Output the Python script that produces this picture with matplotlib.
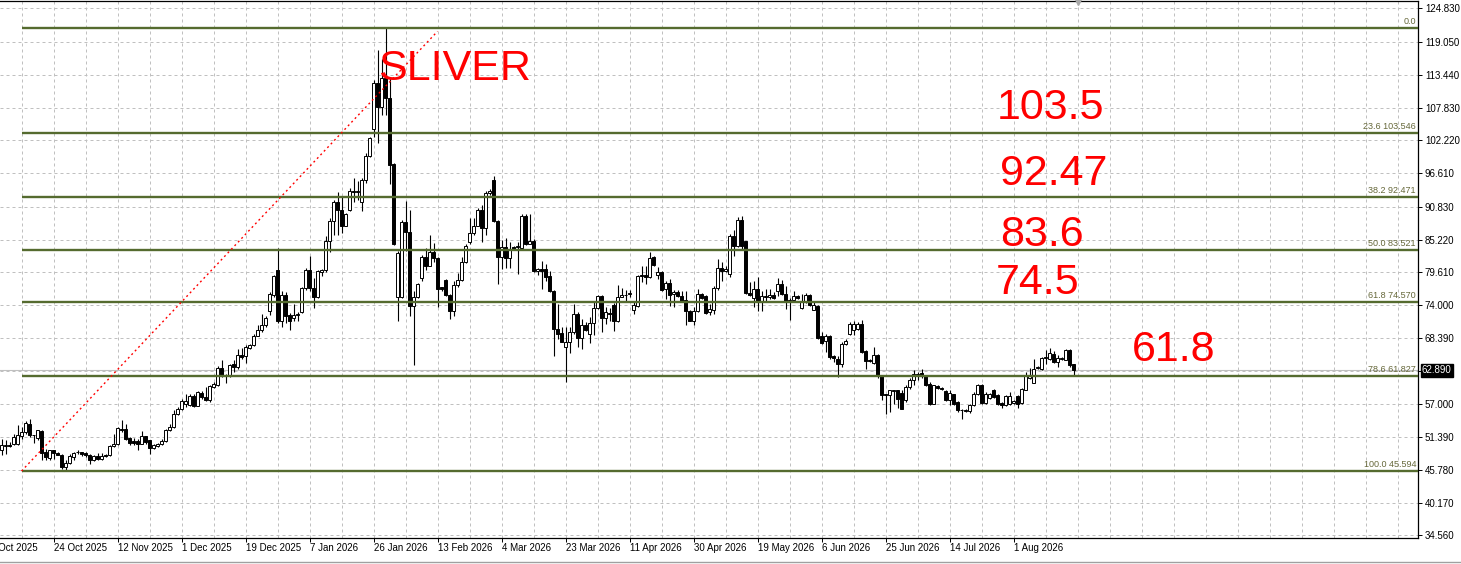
import numpy as np
import matplotlib.pyplot as plt
from matplotlib.lines import Line2D

plt.rcParams['font.family'] = ['Liberation Sans', 'DejaVu Sans']

# daily bars, first one is index -5 (partly cut at the left edge)
first_bar = -5
opens = [49.13, 49.93, 50.10, 50.27, 50.27, 51.59, 52.27, 53.70, 51.85, 51.30,
         52.38, 48.79, 47.82, 49.13, 48.73, 48.27, 46.27, 47.02, 47.99, 48.80,
         48.79, 48.67, 48.27, 47.53, 48.10, 47.65, 48.27, 48.27, 49.81, 50.27,
         52.84, 52.78, 51.30, 50.79, 50.67, 50.27, 51.64, 50.84, 49.59, 49.87,
         50.27, 50.67, 52.55, 53.12, 55.41, 56.27, 57.12, 56.89, 58.38, 56.78,
         59.00, 58.26, 57.69, 59.97, 60.26, 63.23, 61.95, 61.80, 63.86, 63.40,
         65.51, 65.28, 66.65, 67.11, 68.77, 69.68, 70.53, 72.93, 75.78, 80.06,
         71.21, 75.78, 72.35, 71.78, 72.24, 72.92, 76.92, 80.06, 77.03, 75.32,
         79.77, 80.06, 85.02, 88.45, 91.59, 90.33, 87.59, 90.33, 93.59, 93.36,
         91.76, 95.47, 99.58, 104.15, 112.02, 108.03, 112.88, 109.57, 98.15, 75.49,
         75.49, 88.17, 86.62, 73.78, 75.49, 78.63, 82.34, 80.74, 83.03, 82.17,
         77.09, 78.34, 75.78, 73.04, 77.49, 78.34, 81.37, 84.91, 86.45, 87.65,
         90.33, 87.19, 93.30, 95.36, 88.45, 82.23, 84.00, 82.17, 83.94, 83.94,
         83.77, 89.36, 84.51, 85.08, 79.88, 80.21, 80.21, 79.07, 76.50, 69.94,
         69.19, 66.80, 67.71, 69.36, 72.50, 68.39, 70.62, 69.08, 70.96, 73.53,
         75.64, 71.82, 72.73, 74.04, 71.25, 75.47, 75.70, 75.93, 73.19, 73.93,
         79.24, 79.24, 78.90, 82.21, 79.24, 79.75, 76.73, 77.81, 75.93, 76.33,
         75.64, 74.96, 73.07, 71.36, 72.96, 75.99, 75.53, 72.79, 73.25, 76.90,
         80.32, 79.81, 79.35, 85.92, 84.09, 88.66, 84.95, 76.10, 75.24, 76.78,
         74.67, 75.64, 75.36, 75.81, 76.50, 77.64, 75.93, 74.67, 74.90, 75.59,
         73.60, 74.57, 75.71, 73.26, 73.88, 68.68, 67.88, 68.68, 65.26, 64.86,
         64.00, 67.31, 69.03, 69.83, 70.00, 70.74, 66.11, 64.68, 64.11, 65.43,
         61.83, 58.74, 58.57, 59.31, 59.43, 58.97, 57.83, 60.00, 61.14, 62.28,
         62.40, 61.83, 60.57, 57.14, 60.11, 59.83, 59.31, 57.71, 58.74, 57.43,
         56.11, 55.88, 55.88, 56.86, 58.86, 60.28, 57.26, 58.17, 59.54, 58.57,
         57.26, 56.86, 57.14, 57.26, 58.40, 57.26, 59.54, 61.60, 60.74, 63.20,
         63.14, 64.91, 64.86, 65.71, 64.28, 64.86, 64.68, 66.40, 63.88]
highs = [51.13, 50.96, 50.50, 51.98, 53.53, 53.12, 54.10, 54.44, 51.85, 52.67,
         52.55, 49.41, 49.24, 49.13, 48.84, 48.44, 47.42, 48.44, 48.84, 49.24,
         48.90, 48.90, 48.44, 48.27, 48.73, 48.67, 48.44, 49.99, 51.87, 53.12,
         54.27, 53.70, 51.41, 51.30, 51.01, 52.38, 51.64, 50.96, 50.27, 50.44,
         51.13, 52.73, 53.70, 55.98, 56.55, 57.98, 58.83, 58.83, 58.83, 59.23,
         59.23, 59.97, 60.26, 60.83, 63.51, 64.54, 62.26, 63.97, 64.54, 66.54,
         66.71, 67.11, 67.39, 69.11, 70.65, 72.53, 72.07, 76.24, 79.20, 83.77,
         76.35, 76.23, 72.64, 74.18, 72.92, 77.20, 80.34, 82.51, 78.63, 80.06,
         80.23, 85.77, 88.91, 92.04, 93.47, 92.62, 89.76, 94.04, 95.76, 95.30,
         95.76, 100.03, 102.89, 112.59, 117.73, 116.19, 121.44, 112.88, 98.32, 83.20,
         88.62, 91.93, 90.33, 76.46, 77.77, 82.63, 83.77, 86.05, 84.62, 82.34,
         77.20, 78.52, 75.89, 78.06, 79.49, 82.34, 84.45, 88.91, 88.91, 90.62,
         91.19, 93.59, 93.93, 96.21, 88.62, 85.20, 85.48, 84.79, 84.22, 84.79,
         89.59, 89.59, 89.59, 85.37, 80.34, 81.64, 81.07, 79.92, 76.61, 74.22,
         70.33, 70.22, 70.33, 74.22, 72.79, 71.65, 71.08, 71.93, 74.50, 75.81,
         75.81, 73.65, 73.53, 74.33, 77.47, 76.96, 76.61, 76.61, 74.79, 79.24,
         80.78, 80.78, 83.06, 82.49, 80.49, 79.92, 78.21, 78.44, 76.61, 76.61,
         76.50, 76.39, 73.19, 73.65, 76.78, 76.10, 75.70, 74.22, 77.36, 81.92,
         81.35, 80.78, 86.20, 86.89, 89.06, 89.34, 85.06, 77.93, 78.21, 78.78,
         76.50, 76.78, 76.78, 76.21, 78.67, 78.38, 77.36, 75.19, 76.50, 75.76,
         76.00, 76.11, 75.88, 74.57, 74.00, 69.43, 69.14, 68.86, 65.43, 65.26,
         67.71, 68.28, 71.14, 71.31, 71.14, 71.54, 66.28, 64.86, 66.86, 65.60,
         62.00, 58.86, 59.54, 59.54, 59.54, 59.43, 60.28, 61.60, 62.86, 62.57,
         63.14, 62.00, 60.86, 60.40, 60.40, 60.00, 59.54, 59.43, 58.86, 57.54,
         56.28, 56.28, 57.03, 59.14, 60.57, 60.46, 59.14, 58.97, 59.71, 58.74,
         57.43, 58.57, 59.14, 57.83, 58.57, 59.88, 62.57, 63.31, 64.86, 63.54,
         65.14, 66.40, 66.74, 66.17, 65.43, 65.14, 66.57, 66.57, 64.00]
lows = [48.27, 48.44, 49.70, 49.99, 49.99, 51.13, 51.98, 51.41, 50.44, 50.84,
        47.42, 47.42, 47.53, 47.70, 48.27, 45.99, 45.82, 46.85, 47.42, 48.56,
        48.10, 47.99, 46.85, 47.30, 47.42, 47.53, 47.99, 48.10, 49.70, 49.99,
        52.27, 50.84, 49.99, 49.99, 49.13, 50.16, 50.27, 48.56, 49.41, 49.70,
        49.99, 50.56, 52.44, 53.01, 55.12, 56.09, 56.55, 56.66, 56.55, 56.66,
        57.98, 57.58, 57.41, 59.86, 60.09, 61.69, 60.66, 61.69, 62.54, 63.12,
        64.83, 64.14, 66.48, 67.00, 68.65, 69.39, 70.25, 72.25, 75.49, 70.93,
        70.35, 70.93, 69.78, 71.21, 71.21, 72.64, 76.63, 76.35, 73.49, 75.20,
        78.92, 79.77, 83.08, 86.05, 86.05, 86.34, 87.48, 90.05, 91.76, 92.04,
        90.16, 94.90, 99.46, 102.89, 101.75, 106.60, 106.60, 94.73, 84.34, 71.21,
        75.20, 83.20, 72.07, 63.79, 75.20, 78.06, 80.06, 80.63, 81.48, 73.61,
        76.35, 75.66, 71.67, 72.07, 77.20, 78.06, 81.20, 84.45, 86.05, 87.48,
        84.91, 86.05, 92.90, 88.33, 77.60, 80.23, 80.34, 80.34, 83.66, 79.37,
        83.49, 84.34, 84.45, 79.77, 79.20, 76.78, 78.21, 76.21, 65.25, 68.22,
        67.65, 60.80, 65.77, 69.08, 66.80, 66.51, 69.65, 67.48, 68.91, 73.36,
        69.36, 70.79, 71.36, 69.54, 71.08, 75.36, 74.67, 75.47, 72.50, 73.76,
        77.93, 77.64, 78.67, 80.72, 78.44, 76.50, 75.07, 73.93, 73.76, 75.47,
        74.67, 70.65, 71.25, 70.68, 72.79, 75.07, 72.50, 72.33, 72.50, 76.61,
        78.10, 79.64, 78.90, 82.49, 83.92, 83.63, 75.93, 75.64, 73.65, 72.96,
        73.07, 74.67, 75.07, 75.07, 75.64, 75.81, 73.36, 71.53, 74.79, 75.07,
        73.43, 74.40, 73.83, 73.14, 68.28, 67.43, 66.00, 64.86, 64.28, 61.71,
        63.43, 67.26, 68.86, 68.86, 69.83, 65.83, 63.03, 64.28, 63.88, 61.60,
        57.71, 55.43, 55.71, 57.14, 56.40, 56.23, 57.43, 59.71, 60.28, 61.14,
        61.60, 60.17, 56.86, 57.03, 59.71, 59.43, 57.54, 56.86, 56.86, 55.71,
        54.57, 55.71, 55.54, 56.68, 58.57, 57.14, 57.03, 58.00, 58.17, 56.86,
        56.46, 56.68, 56.86, 57.14, 56.46, 57.14, 59.43, 61.43, 60.68, 63.08,
        62.86, 64.00, 64.68, 64.11, 63.43, 64.68, 64.57, 63.43, 62.00]
closes = [50.10, 50.10, 49.87, 51.41, 51.76, 52.33, 53.81, 51.81, 51.75, 52.55,
          48.73, 47.99, 49.13, 48.73, 48.39, 46.27, 47.02, 48.16, 48.73, 48.90,
          48.50, 48.27, 47.42, 48.10, 47.65, 48.16, 48.10, 49.81, 50.27, 52.90,
          52.55, 51.13, 50.44, 50.44, 50.27, 51.64, 50.50, 49.59, 49.99, 50.27,
          50.73, 52.55, 53.12, 55.41, 56.27, 57.52, 57.58, 58.43, 56.72, 59.06,
          58.26, 57.81, 60.09, 60.43, 63.23, 61.92, 61.98, 63.68, 63.40, 65.51,
          65.11, 66.82, 67.11, 68.77, 69.68, 70.53, 71.79, 75.96, 78.92, 71.21,
          75.78, 72.07, 71.38, 72.35, 72.47, 76.92, 80.06, 76.92, 75.32, 79.88,
          80.06, 85.02, 88.45, 91.59, 90.33, 87.48, 89.59, 93.59, 93.36, 93.59,
          95.47, 99.58, 102.72, 112.02, 108.03, 112.88, 109.45, 98.04, 84.45, 82.91,
          88.17, 86.51, 73.78, 75.49, 77.60, 82.34, 80.63, 83.03, 82.06, 76.80,
          76.75, 75.78, 73.04, 77.49, 78.34, 81.48, 84.22, 86.45, 87.65, 90.33,
          87.19, 93.30, 93.59, 88.45, 82.23, 84.05, 82.06, 83.66, 83.71, 84.17,
          89.36, 84.45, 85.08, 79.88, 80.23, 79.92, 78.90, 76.39, 69.88, 69.08,
          67.77, 67.71, 69.48, 72.50, 68.39, 70.62, 69.76, 70.96, 73.53, 75.64,
          71.82, 72.90, 72.50, 71.25, 75.47, 75.81, 75.81, 76.16, 74.10, 79.07,
          78.95, 78.78, 82.09, 80.89, 79.75, 76.67, 77.81, 75.76, 76.33, 75.53,
          74.79, 72.96, 71.36, 73.07, 75.99, 75.24, 72.62, 73.36, 76.96, 80.38,
          79.92, 80.21, 85.92, 84.09, 88.66, 84.09, 76.04, 75.81, 76.78, 74.67,
          75.64, 75.36, 75.76, 75.24, 77.64, 75.93, 74.79, 74.90, 75.64, 75.24,
          74.57, 75.71, 74.00, 74.00, 68.46, 67.54, 68.68, 65.14, 64.97, 64.00,
          67.43, 67.88, 70.74, 70.74, 70.74, 66.00, 64.46, 64.46, 65.43, 61.83,
          58.57, 58.57, 59.43, 59.43, 58.00, 56.28, 60.00, 61.14, 62.28, 62.00,
          61.83, 60.28, 57.14, 60.28, 59.88, 59.60, 57.71, 58.97, 57.14, 56.00,
          56.00, 56.11, 56.86, 58.86, 60.28, 57.26, 58.86, 58.86, 58.28, 57.14,
          56.86, 58.40, 58.40, 57.54, 57.14, 59.71, 61.83, 61.83, 63.14, 63.43,
          65.03, 65.14, 65.83, 64.28, 65.03, 65.03, 66.40, 63.71, 62.89]

fib_prices = [121.44, 103.546, 92.471, 83.521, 74.570, 61.827, 45.594]
fib_labels = ['0.0', '23.6 103.546', '38.2 92.471', '50.0 83.521',
              '61.8 74.570', '78.6 61.827', '100.0 45.594']
fib_start = 0

trend_x = [0, 104]
trend_y = [45.594, 120.9]

price_ticks = [124.83, 119.05, 113.44, 107.83, 102.22, 96.61, 90.83, 85.22,
               79.61, 74.0, 68.39, 62.695, 57.0, 51.39, 45.78, 40.17, 34.56]
price_labels = ['124.830', '119.050', '113.440', '107.830', '102.220', '96.610',
                '90.830', '85.220', '79.610', '74.000', '68.390', '', '57.000',
                '51.390', '45.780', '40.170', '34.560']
last_price = 62.89

date_labels = ['5 Oct 2025', '24 Oct 2025', '12 Nov 2025', '1 Dec 2025',
               '19 Dec 2025', '7 Jan 2026', '26 Jan 2026', '13 Feb 2026',
               '4 Mar 2026', '23 Mar 2026', '11 Apr 2026', '30 Apr 2026',
               '19 May 2026', '6 Jun 2026', '25 Jun 2026', '14 Jul 2026',
               '1 Aug 2026']
first_date_bar = -8
bars_per_label = 16

notes = ['SLIVER', '103.5', '92.47', '83.6', '74.5', '61.8']
note_x = [89.2, 243.9, 244.6, 244.6, 243.6, 277.6]
note_y = [112.6, 105.9, 94.6, 84.1, 75.9, 64.4]

o = np.array(opens)
h = np.array(highs)
l = np.array(lows)
c = np.array(closes)
x = np.arange(len(o)) + first_bar

fig = plt.figure(figsize=(14.61, 5.64), dpi=100)
ax = fig.add_axes([0, 26 / 564, 1418 / 1461, 537 / 564])
xmin, xmax = -5.375, 349.125
ax.set_xlim(xmin, xmax)
ax.set_ylim(34.13, 126.1)

grid_kw = dict(color='#c0c0c0', lw=0.72, linestyle=(0, (3, 3)), zorder=0.5)
for gx in np.arange(0, xmax, 8):
    ax.axvline(gx, **grid_kw)
for gy in price_ticks:
    ax.axhline(gy, **grid_kw)

ax.axhline(last_price, color='#c0c0c0', lw=0.8, zorder=1)

# candles
up = c >= o
ax.vlines(x, l, h, color='black', lw=0.8, zorder=2)
body_lo = np.minimum(o, c)
body_h = np.maximum(np.abs(c - o), 0.08)
ax.bar(x, body_h, bottom=body_lo, width=0.72,
       color=np.where(up, 'white', 'black'), edgecolor='black',
       linewidth=0.7, zorder=3)

# fibonacci levels
ax.hlines(fib_prices, fib_start, xmax, color='#556b2f', lw=1.7, zorder=4)
for p, t in zip(fib_prices, fib_labels):
    ax.annotate(t, xy=(1, p), xycoords=('axes fraction', 'data'),
                xytext=(-2, 2), textcoords='offset pixels',
                ha='right', va='bottom', fontsize=6.5, color='#66683a')

ax.plot(trend_x, trend_y, color='red', lw=1.0, linestyle=(0, (1.4, 2.2)), zorder=5)

for t, tx, ty in zip(notes, note_x, note_y):
    ax.text(tx, ty, t, color='red', fontsize=31, ha='left', va='baseline', zorder=6)

# axes look
ax.yaxis.tick_right()
ax.set_yticks(price_ticks)
ax.set_yticklabels(price_labels)
ax.tick_params(axis='y', direction='out', length=3, width=0.7, pad=2, labelsize=7)
tick_bars = [first_date_bar + bars_per_label * k for k in range(len(date_labels))]
ax.set_xticks([b for b in tick_bars if b >= xmin])
ax.set_xticklabels([])
ax.tick_params(axis='x', direction='out', length=3, width=0.7)
for b, lab in zip(tick_bars, date_labels):
    ax.annotate(lab, xy=(b, 0), xycoords=('data', 'axes fraction'),
                xytext=(0, -5), textcoords='offset pixels',
                ha='left', va='top', fontsize=7, annotation_clip=False)

ax.spines['left'].set_visible(False)
for s in ['right', 'bottom', 'top']:
    ax.spines[s].set_linewidth(0.9)

ax.annotate('%.3f' % last_price, xy=(1, last_price),
            xycoords=('axes fraction', 'data'), xytext=(4, 0),
            textcoords='offset pixels', ha='left', va='center', fontsize=7,
            color='white', bbox=dict(boxstyle='square,pad=0.15', fc='black', ec='black'))

# chart shift marker
ax.plot([264], [126.1], marker='v', ms=6, color='#a8a8a8', clip_on=False, zorder=7)

fig.add_artist(Line2D([0, 1], [2 / 564, 2 / 564], color='#a0a0a0', lw=1))

fig.savefig('out.png', dpi=100)
